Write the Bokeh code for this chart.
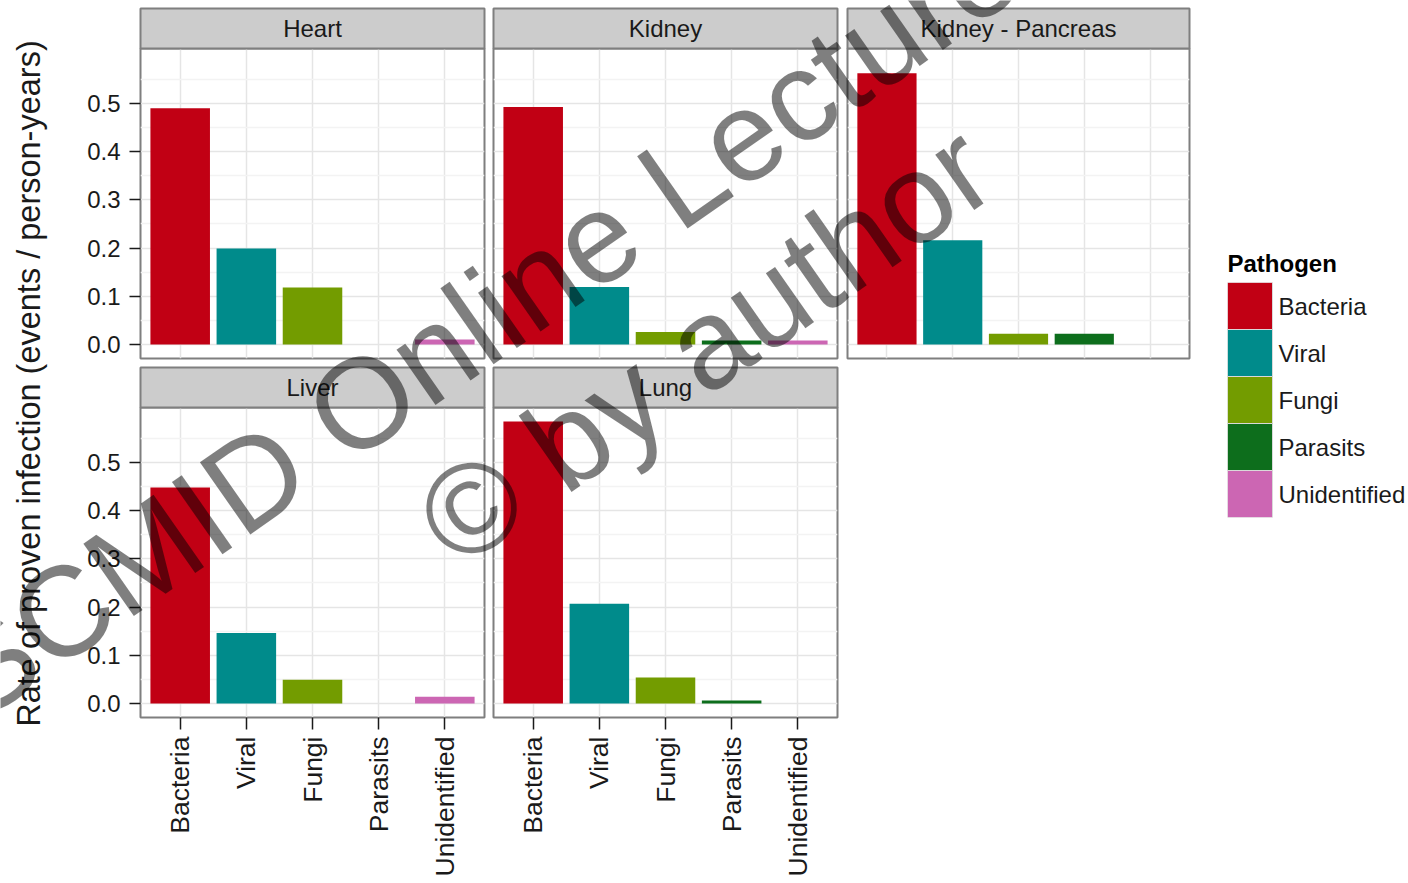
import math

from bokeh.plotting import figure
from bokeh.models import (FactorRange, Range1d, FixedTicker, PrintfTickFormatter,
                          ColumnDataSource)
from bokeh.core.properties import value
from bokeh.embed import file_html
from bokeh.resources import INLINE

# ---- data -----------------------------------------------------------------
organs = ["Heart", "Kidney", "Kidney - Pancreas", "Liver", "Lung"]
pathogens = ["Bacteria", "Viral", "Fungi", "Parasits", "Unidentified"]
pathogen_colors = ["#C10014", "#008B8B", "#739C00", "#0D6E1C", "#CC66B3"]

# rate of proven infection per organ, in pathogen order (None = not observed)
heart = [0.490, 0.199, 0.118, None, 0.010]
kidney = [0.493, 0.119, 0.026, 0.008, 0.008]
kidney_pancreas = [0.563, 0.216, 0.022, 0.022, None]
liver = [0.448, 0.146, 0.049, None, 0.014]
lung = [0.585, 0.207, 0.054, 0.006, None]
rates = [heart, kidney, kidney_pancreas, liver, lung]

y_ticks = [0.0, 0.1, 0.2, 0.3, 0.4, 0.5]
y_minor_ticks = [0.05, 0.15, 0.25, 0.35, 0.45, 0.55]
y_title = "Rate of proven infection (events / person-years)"
legend_title = "Pathogen"
watermark_lines = ["ESCMID Online Lecture Library", "\u00a9 by author"]

# ---- layout ---------------------------------------------------------------
W, H = 1408, 883
FONT = "Liberation Sans"
INK = "#1A1A1A"
BORDER = "#7F7F7F"
PANEL_H = 310
STRIP_H = 40
# frame left, frame top, frame width for each facet
panel_boxes = [(140, 48, 344), (493, 48, 344), (847, 48, 342),
               (140, 407, 344), (493, 407, 344)]
show_y_axis = [True, False, False, True, False]
show_x_axis = [False, False, False, True, True]
KEY_LEFT, KEY_TOP, KEY_W, KEY_H = 1227, 282, 45, 47
LABEL_GAP = 6
TITLE_BOX_H = 34
watermark_centers = [(618, 222), (704, 344)]

all_vals = [v for row in rates for v in row if v is not None]
y_max = max(all_vals)
y_lo, y_hi = -0.05 * y_max, 1.05 * y_max

STACKED = {"position": "absolute", "left": "0px", "top": "0px"}


def layer(left, top, width, height, **kw):
    """A full-page transparent figure whose frame sits at the given box."""
    p = figure(width=W, height=H, output_backend="svg", toolbar_location=None,
               title=None,
               min_border_left=left, min_border_top=top,
               min_border_right=W - left - width,
               min_border_bottom=H - top - height,
               styles=STACKED, **kw)
    p.border_fill_color = None
    p.background_fill_color = None
    p.outline_line_color = None
    return p


def facet_source(vals):
    present = [(c, v, col) for c, v, col in zip(pathogens, vals, pathogen_colors)
               if v is not None]
    return ColumnDataSource(dict(pathogen=[c for c, _, _ in present],
                                 rate=[v for _, v, _ in present],
                                 color=[col for _, _, col in present]))


layers = []

# y-axis title
yt = layer(0, 8, 56, 750, x_range=Range1d(0, 1), y_range=Range1d(0, 1),
           x_axis_type=None, y_axis_type=None)
yt.text(x=[0.5], y=[0.5], text=[y_title], angle=90, angle_units="deg",
        text_align="center", text_baseline="middle",
        text_font=value(FONT), text_font_size="32.5px", text_color=INK)
layers.append(yt)

# facet panels
for organ, vals, (L, T, w), sy, sx in zip(organs, rates, panel_boxes,
                                          show_y_axis, show_x_axis):
    src = facet_source(vals)

    p = layer(L, T, w, PANEL_H,
              x_range=FactorRange(*pathogens, range_padding=0.1,
                                  range_padding_units="absolute"),
              y_range=Range1d(y_lo, y_hi))
    p.background_fill_color = "white"
    p.outline_line_color = BORDER
    p.outline_line_width = 2

    p.vbar(x="pathogen", top="rate", width=0.9, fill_color="color",
           line_color=None, source=src)

    ticker = FixedTicker(ticks=y_ticks, minor_ticks=y_minor_ticks)
    p.yaxis.ticker = ticker
    p.ygrid.ticker = ticker
    p.yaxis.formatter = PrintfTickFormatter(format="%.1f")

    p.xgrid.grid_line_color = "#E5E5E5"
    p.xgrid.grid_line_width = 1.5
    p.ygrid.grid_line_color = "#E5E5E5"
    p.ygrid.grid_line_width = 1.5
    p.ygrid.minor_grid_line_color = "#F3F3F3"
    p.ygrid.minor_grid_line_width = 1.5

    p.axis.axis_line_color = None
    p.axis.major_tick_line_color = INK
    p.axis.major_tick_line_width = 1.5
    p.axis.major_tick_in = 0
    p.axis.minor_tick_line_color = None
    p.axis.major_label_text_font = FONT
    p.axis.major_label_text_color = INK

    p.yaxis.major_tick_out = 11
    p.yaxis.major_label_standoff = 9
    p.yaxis.major_label_text_font_size = "24px"

    p.xaxis.major_tick_out = 12
    p.xaxis.major_label_standoff = 7
    p.xaxis.major_label_orientation = math.pi / 2
    p.xaxis.major_label_text_font_size = "26.5px"

    p.yaxis.visible = sy
    p.xaxis.visible = sx
    layers.append(p)

    # facet strip
    s = layer(L, T - STRIP_H, w, STRIP_H, x_range=Range1d(0, 1),
              y_range=Range1d(0, 1), x_axis_type=None, y_axis_type=None)
    s.background_fill_color = "#CCCCCC"
    s.outline_line_color = BORDER
    s.outline_line_width = 2
    s.text(x=[0.5], y=[0.5], text=[organ], text_align="center",
           text_baseline="middle", text_font=value(FONT),
           text_font_size="24px", text_color=INK)
    layers.append(s)

# legend title, centred vertically in a small box above the keys
lt = layer(KEY_LEFT, KEY_TOP - TITLE_BOX_H, 181, TITLE_BOX_H,
           x_range=Range1d(0, 181), y_range=Range1d(0, TITLE_BOX_H),
           x_axis_type=None, y_axis_type=None)
lt.text(x=[0], y=[19], text=[legend_title], text_align="left",
        text_baseline="middle", text_font=value(FONT),
        text_font_size="24px", text_font_style="bold", text_color="black")
layers.append(lt)

# legend keys: one row per pathogen on a categorical axis, top to bottom
n = len(pathogens)
lk = layer(KEY_LEFT, KEY_TOP, W - KEY_LEFT, KEY_H * n,
           x_range=Range1d(0, W - KEY_LEFT),
           y_range=FactorRange(*pathogens[::-1], range_padding=0),
           x_axis_type=None, y_axis_type=None)
key_src = ColumnDataSource(dict(pathogen=pathogens, color=pathogen_colors))
lk.hbar(y="pathogen", left=0, right=KEY_W, height=1.0, fill_color="color",
        line_color="#D9D9D9", line_width=1, source=key_src)
lk.text(x=KEY_W + LABEL_GAP, y="pathogen", text="pathogen", source=key_src,
        text_align="left", text_baseline="middle", text_font=value(FONT),
        text_font_size="24px", text_color=INK)
layers.append(lk)

# watermark over everything
wm = layer(0, 0, W, H, x_range=Range1d(0, W), y_range=Range1d(H, 0),
           x_axis_type=None, y_axis_type=None)
wm.text(x=[c[0] for c in watermark_centers], y=[c[1] for c in watermark_centers],
        text=watermark_lines, angle=35, angle_units="deg",
        text_align="center", text_baseline="middle",
        text_font=value(FONT), text_font_size="128px",
        text_color="black", text_alpha=0.5)
layers.append(wm)

with open("out.html", "w") as fh:
    fh.write(file_html(layers, INLINE))
